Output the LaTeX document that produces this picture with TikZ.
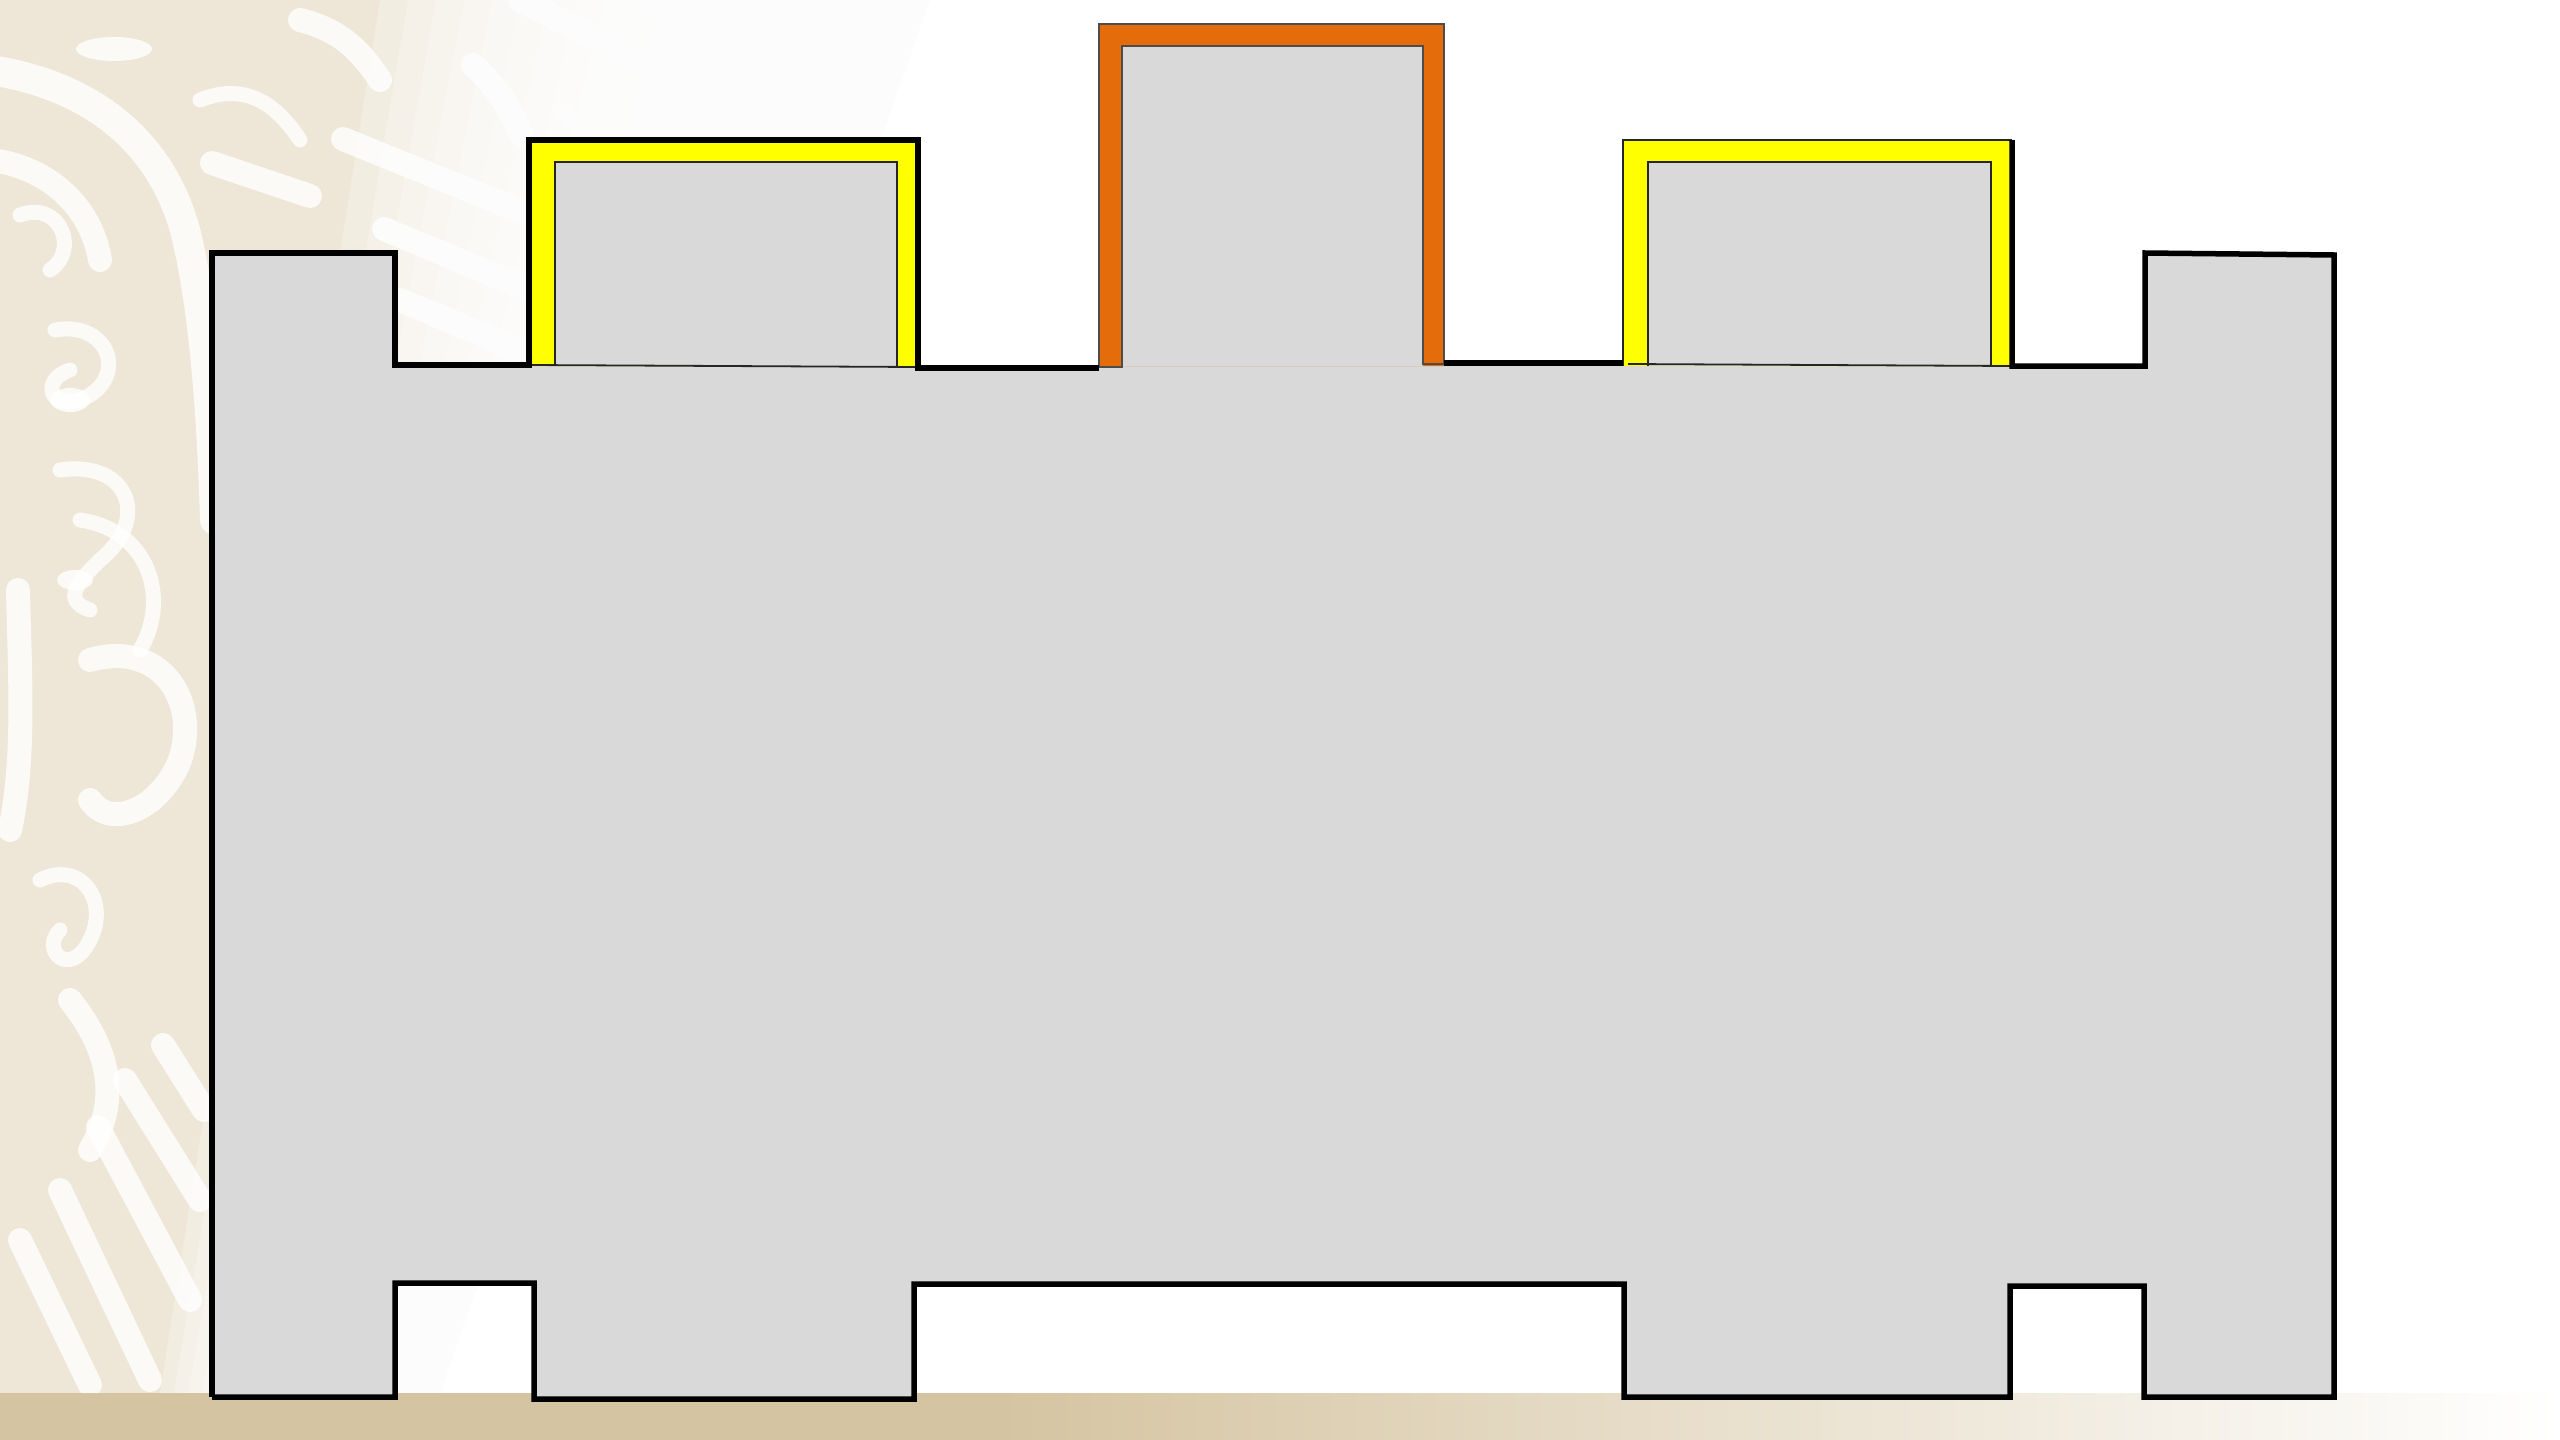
\documentclass[tikz,border=0pt]{standalone}
\definecolor{shapegray}{HTML}{D9D9D9}
\definecolor{frameyellow}{HTML}{FFFF00}
\definecolor{frameorange}{HTML}{E46C0A}
\definecolor{bandtan}{HTML}{D5C4A1}
\definecolor{patbeige}{HTML}{EEE7D8}
\begin{document}
\begin{tikzpicture}[x=1pt,y=-1pt,
  outline/.style={black,line width=5.5pt,line join=miter},
  thinline/.style={black!85,line width=1.8pt},
  swirl/.style={white,line width=24pt,line cap=round,opacity=0.8},
  swirlthin/.style={white,line width=15pt,line cap=round,opacity=0.8}]
\useasboundingbox (0,0) rectangle (2560,1440);
\fill[white] (0,0) rectangle (2560,1440);
% ---- decorative background pattern
\fill[patbeige] (0,0) rectangle (960,1393);
% big arc band
\draw[swirl,line width=30pt] (-10,70) .. controls (90,85) and (160,140) .. (185,230) .. controls (205,310) and (212,420) .. (215,520);
\draw[swirl] (-10,160) .. controls (40,165) and (90,200) .. (100,260);
% ovals / spirals
\fill[white,opacity=0.8] (114,49) ellipse (38 and 12);
\draw[swirlthin] (20,215) .. controls (60,200) and (80,250) .. (50,270);
\draw[swirlthin] (55,330) .. controls (110,320) and (130,380) .. (80,400) .. controls (50,410) and (40,380) .. (70,370);
\fill[white,opacity=0.8] (70,400) ellipse (20 and 12);
\draw[swirlthin] (60,470) .. controls (130,460) and (150,520) .. (100,560) .. controls (80,580) and (60,600) .. (90,610);
\fill[white,opacity=0.8] (75,580) ellipse (18 and 10);
\draw[swirl] (18,590) .. controls (20,680) and (25,760) .. (10,830);
\draw[swirlthin] (80,520) .. controls (150,530) and (170,600) .. (140,650);
\draw[swirl] (90,660) .. controls (160,640) and (200,700) .. (180,760) .. controls (160,810) and (110,830) .. (90,800);
\draw[swirlthin] (40,880) .. controls (80,860) and (110,900) .. (90,940) .. controls (70,980) and (40,950) .. (60,930);
\draw[swirl] (70,1000) .. controls (110,1050) and (120,1100) .. (90,1150);
% lower diagonal stripes
\draw[swirl] (163,1045) -- (204,1110);
\draw[swirl] (125,1080) -- (200,1200);
\draw[swirl] (98,1127) -- (190,1300);
\draw[swirl] (60,1190) -- (150,1380);
\draw[swirl] (20,1240) -- (90,1385);
% top region strokes
\draw[swirl] (343,139) -- (530,215);
\draw[swirl] (384,229) -- (530,290);
\draw[swirl] (400,300) -- (520,350);
\draw[swirl] (212,163) -- (310,196);
\draw[swirlthin] (200,100) .. controls (250,80) and (280,110) .. (300,140);
\draw[swirl] (300,20) .. controls (340,30) and (360,50) .. (380,80);
\draw[swirl] (473,65) .. controls (500,90) and (510,110) .. (522,135);
\draw[swirlthin] (560,110) .. controls (575,120) and (590,140) .. (600,160);
\draw[swirl] (520,0) .. controls (600,40) and (700,90) .. (800,150);
\draw[swirl] (650,0) .. controls (720,30) and (800,70) .. (900,120);
% diagonal fade of the pattern to white
\foreach \k in {0,...,19}
  \fill[white,opacity=0.25] ({380+28*\k},0) -- (970,0) -- (970,1393) -- ({160+14*\k},1393) -- cycle;
\fill[white] (930,0) -- (980,0) -- (980,1393) -- (440,1393) -- cycle;
% ---- bottom band
\fill[bandtan] (0,1393) rectangle (1000,1440);
\shade[left color=bandtan,right color=white] (999,1393) rectangle (2560,1440);
% ---- grey body
\fill[shapegray] (212,1397) -- (212,253) -- (395,253) -- (395,365) -- (529,365)
  -- (529,140) -- (918,140) -- (918,368) -- (1099,368) -- (1099,24) -- (1444,24)
  -- (1444,363) -- (1623,363) -- (1623,140) -- (2012,140) -- (2012,366)
  -- (2145,366) -- (2145,253) -- (2334,255) -- (2334,1397) -- (2144,1397)
  -- (2144,1286) -- (2010,1286) -- (2010,1397) -- (1624,1397) -- (1624,1284)
  -- (914,1284) -- (914,1399) -- (534,1399) -- (534,1283) -- (395,1283)
  -- (395,1397) -- cycle;
% ---- yellow frame 1
\fill[frameyellow,even odd rule] (529,140) rectangle (918,366) (555,162) rectangle (897,366);
\draw[thinline] (555,366) -- (555,162) -- (897,162) -- (897,366);
\draw[thinline] (529,365) -- (918,367);
% ---- orange frame
\fill[frameorange,even odd rule] (1099,24) rectangle (1444,366) (1122,46) rectangle (1423,366);
\draw[black!70,line width=1.4pt] (1099,367) -- (1099,24) -- (1444,24) -- (1444,364)
  -- (1423,364) -- (1423,46) -- (1122,46) -- (1122,367) -- cycle;
% ---- yellow frame 2
\fill[frameyellow,even odd rule] (1623,140) rectangle (2012,366) (1648,162) rectangle (1991,366);
\draw[thinline] (1623,366) -- (1623,140) -- (2012,140);
\draw[thinline] (1648,366) -- (1648,162) -- (1991,162) -- (1991,366);
\draw[thinline] (1628,364) -- (2012,366);
% ---- thick outline
\draw[outline] (212,1397) -- (212,253) -- (395,253) -- (395,365) -- (529,365)
  -- (529,140) -- (918,140) -- (918,368) -- (1099,368);
\draw[outline] (1444,363) -- (1623,363);
\draw[outline] (2012,140) -- (2012,366) -- (2145,366) -- (2145,253) -- (2334,255)
  -- (2334,1397) -- (2144,1397) -- (2144,1286) -- (2010,1286) -- (2010,1397)
  -- (1624,1397) -- (1624,1284) -- (914,1284) -- (914,1399) -- (534,1399)
  -- (534,1283) -- (395,1283) -- (395,1397) -- (212,1397);
\end{tikzpicture}
\end{document}
